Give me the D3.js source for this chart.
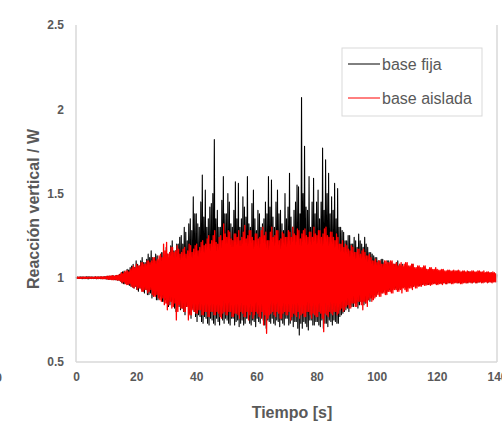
<!DOCTYPE html>
<html><head><meta charset="utf-8">
<script src="https://cdn.jsdelivr.net/npm/d3@7/dist/d3.min.js"></script>
<style>body{margin:0;background:#fff}svg{display:block}</style>
</head><body>
<svg id="c" width="502" height="424"></svg>
<script>
// Per second t = 0..140: two local peaks (Hi, HiB) and two troughs (Lo, LoB)
const seriesNames = ["base fija", "base aislada"];
const xTicks = [0, 20, 40, 60, 80, 100, 120, 140];
const yTicks = [0.5, 1, 1.5, 2, 2.5];

const fijaHi = [1.005,1.004,1.006,1.005,1.007,1.006,1.005,1.004,1.006,1.005,
  1.008,1.01,1.012,1.01,1.015, 1.03,1.04,1.05,1.06,1.08,
  1.1,1.07,1.12,1.09,1.14, 1.16,1.1,1.13,1.12,1.15,
  1.18,1.12,1.22,1.16,1.2, 1.25,1.3,1.22,1.35,1.48,
  1.38,1.3,1.61,1.52,1.35, 1.44,1.82,1.4,1.3,1.6,
  1.38,1.45,1.3,1.57,1.56, 1.35,1.42,1.6,1.3,1.52,
  1.28,1.38,1.32,1.45,1.6, 1.58,1.3,1.52,1.4,1.28,
  1.35,1.62,1.3,1.45,1.54, 2.07,1.78,1.4,1.3,1.59,
  1.45,1.35,1.77,1.7,1.62, 1.48,1.56,1.53,1.3,1.27,
  1.22,1.25,1.2,1.22,1.26, 1.2,1.24,1.18,1.15,1.13,
  1.12,1.1,1.11,1.08,1.1, 1.09,1.08,1.1,1.07,1.06,
  1.07,1.06,1.08,1.05,1.06, 1.05,1.06,1.04,1.05,1.04,
  1.04,1.035,1.04,1.03,1.04,1.035,1.03,1.04,1.03,1.035,
  1.03,1.035,1.03,1.03,1.035,1.03,1.025,1.03,1.03,1.025,1.02];
const fijaLo = [0.995,0.996,0.994,0.995,0.993,0.995,0.996,0.995,0.994,0.995,
  0.992,0.99,0.99,0.988,0.985, 0.97,0.965,0.96,0.95,0.94,
  0.93,0.94,0.92,0.93,0.9, 0.88,0.9,0.87,0.89,0.86,
  0.85,0.84,0.87,0.8,0.83, 0.82,0.78,0.84,0.76,0.8,
  0.74,0.77,0.73,0.76,0.72, 0.75,0.72,0.74,0.77,0.73,
  0.75,0.72,0.76,0.74,0.71, 0.75,0.73,0.76,0.72,0.74,
  0.76,0.73,0.75,0.7,0.74, 0.76,0.72,0.74,0.75,0.72,
  0.76,0.73,0.71,0.74,0.66, 0.7,0.73,0.69,0.75,0.72,
  0.74,0.71,0.7,0.73,0.75, 0.72,0.74,0.73,0.78,0.8,
  0.82,0.84,0.83,0.85,0.84, 0.86,0.85,0.87,0.88,0.9,
  0.91,0.92,0.92,0.91,0.93, 0.93,0.94,0.93,0.94,0.95,
  0.95,0.955,0.95,0.96,0.955,0.96,0.965,0.96,0.965,0.97,
  0.965,0.97,0.97,0.965,0.97,0.97,0.975,0.97,0.97,0.975,
  0.97,0.975,0.975,0.97,0.975,0.975,0.98,0.975,0.975,0.98,0.98];
const fijaHiB = [1.004,1.005,1.004,1.006,1.005,1.004,1.006,1.005,1.005,1.006,
  1.009,1.008,1.011,1.013,1.02, 1.035,1.03,1.045,1.07,1.06,
  1.08,1.1,1.09,1.11,1.12, 1.12,1.14,1.1,1.15,1.13,
  1.14,1.19,1.16,1.2,1.24, 1.2,1.27,1.32,1.28,1.38,
  1.32,1.45,1.36,1.3,1.42, 1.5,1.35,1.3,1.46,1.38,
  1.5,1.32,1.4,1.35,1.3, 1.48,1.36,1.32,1.44,1.35,
  1.4,1.3,1.35,1.38,1.42, 1.36,1.45,1.38,1.32,1.5,
  1.42,1.36,1.4,1.55,1.38, 1.5,1.42,1.6,1.45,1.38,
  1.52,1.45,1.4,1.5,1.38, 1.4,1.35,1.3,1.28,1.22,
  1.25,1.2,1.24,1.18,1.22, 1.18,1.2,1.15,1.14,1.12,
  1.1,1.11,1.09,1.1,1.08, 1.08,1.09,1.07,1.08,1.07,
  1.06,1.07,1.05,1.06,1.05,1.055,1.05,1.05,1.04,1.045,
  1.035,1.04,1.03,1.035,1.03,1.04,1.035,1.03,1.035,1.03,
  1.035,1.03,1.03,1.025,1.03,1.025,1.03,1.025,1.025,1.02,1.02];
const fijaLoB = [0.996,0.995,0.995,0.994,0.996,0.995,0.994,0.996,0.995,0.994,
  0.99,0.991,0.989,0.986,0.98, 0.965,0.97,0.955,0.945,0.95,
  0.92,0.93,0.91,0.9,0.91, 0.89,0.87,0.88,0.86,0.87,
  0.83,0.86,0.82,0.84,0.81, 0.8,0.83,0.79,0.82,0.77,
  0.78,0.74,0.77,0.73,0.76, 0.73,0.76,0.72,0.75,0.76,
  0.73,0.76,0.72,0.75,0.73, 0.72,0.76,0.73,0.75,0.71,
  0.74,0.76,0.72,0.75,0.73, 0.73,0.75,0.71,0.73,0.76,
  0.72,0.75,0.74,0.7,0.73, 0.74,0.71,0.75,0.72,0.74,
  0.72,0.75,0.73,0.71,0.74, 0.75,0.73,0.77,0.79,0.81,
  0.8,0.83,0.85,0.82,0.86, 0.84,0.87,0.86,0.89,0.89,
  0.92,0.91,0.93,0.92,0.92, 0.94,0.93,0.94,0.95,0.94,
  0.955,0.95,0.96,0.955,0.96,0.965,0.96,0.965,0.97,0.965,
  0.97,0.965,0.97,0.975,0.97,0.975,0.97,0.975,0.975,0.97,
  0.975,0.97,0.975,0.975,0.98,0.975,0.975,0.98,0.98,0.975,0.98];

const aisladaHi = [1.003,1.004,1.003,1.004,1.003,1.004,1.004,1.005,1.005,1.006,
  1.008,1.01,1.012,1.013,1.015, 1.03,1.035,1.04,1.05,1.07,
  1.08,1.07,1.09,1.08,1.1, 1.1,1.12,1.11,1.14,1.2,
  1.21,1.15,1.18,1.16,1.17, 1.15,1.18,1.16,1.19,1.17,
  1.2,1.18,1.22,1.2,1.25, 1.22,1.28,1.2,1.25,1.32,
  1.24,1.27,1.22,1.26,1.28, 1.24,1.31,1.25,1.28,1.22,
  1.26,1.24,1.3,1.27,1.22, 1.3,1.25,1.28,1.23,1.26,
  1.24,1.27,1.3,1.25,1.28, 1.26,1.29,1.24,1.27,1.3,
  1.25,1.28,1.26,1.3,1.24, 1.27,1.22,1.24,1.2,1.18,
  1.19,1.16,1.18,1.15,1.17, 1.16,1.15,1.13,1.12,1.1,
  1.09,1.1,1.08,1.1,1.09, 1.1,1.08,1.07,1.09,1.08,
  1.09,1.07,1.08,1.06,1.07,1.06,1.07,1.05,1.06,1.05,
  1.05,1.045,1.05,1.04,1.045,1.04,1.04,1.045,1.035,1.04,
  1.04,1.035,1.04,1.035,1.04,1.035,1.03,1.035,1.03,1.03,1.025];
const aisladaLo = [0.997,0.996,0.997,0.996,0.997,0.996,0.996,0.995,0.995,0.994,
  0.992,0.99,0.988,0.987,0.985, 0.97,0.965,0.96,0.95,0.94,
  0.93,0.94,0.92,0.93,0.92, 0.9,0.89,0.88,0.86,0.84,
  0.81,0.86,0.83,0.75,0.84, 0.82,0.8,0.75,0.78,0.8,
  0.79,0.81,0.78,0.8,0.77, 0.8,0.78,0.79,0.76,0.8,
  0.78,0.8,0.77,0.79,0.76, 0.79,0.77,0.75,0.8,0.78,
  0.79,0.76,0.72,0.67,0.78, 0.8,0.77,0.79,0.76,0.8,
  0.78,0.75,0.79,0.77,0.76, 0.79,0.77,0.8,0.76,0.78,
  0.77,0.79,0.68,0.78,0.8, 0.78,0.8,0.79,0.82,0.81,
  0.84,0.82,0.85,0.83,0.86, 0.81,0.85,0.87,0.86,0.88,
  0.9,0.89,0.91,0.9,0.92, 0.91,0.93,0.92,0.91,0.93,
  0.92,0.94,0.95,0.94,0.95,0.96,0.955,0.96,0.96,0.965,
  0.96,0.965,0.97,0.965,0.97,0.965,0.97,0.97,0.965,0.97,
  0.97,0.97,0.975,0.97,0.975,0.97,0.975,0.975,0.97,0.975,0.98];
const aisladaHiB = [1.004,1.003,1.004,1.003,1.004,1.003,1.005,1.004,1.006,1.005,
  1.009,1.011,1.01,1.014,1.02, 1.025,1.04,1.035,1.06,1.06,
  1.07,1.09,1.08,1.1,1.09, 1.12,1.1,1.13,1.12,1.16,
  1.14,1.18,1.15,1.19,1.14, 1.17,1.14,1.2,1.15,1.19,
  1.16,1.21,1.19,1.23,1.2, 1.25,1.21,1.24,1.22,1.26,
  1.28,1.23,1.26,1.24,1.22, 1.27,1.23,1.28,1.24,1.26,
  1.23,1.28,1.25,1.22,1.27, 1.24,1.28,1.22,1.27,1.24,
  1.28,1.24,1.26,1.29,1.23, 1.28,1.25,1.27,1.24,1.26,
  1.28,1.24,1.29,1.25,1.27, 1.24,1.26,1.2,1.22,1.2,
  1.17,1.19,1.15,1.17,1.14, 1.17,1.13,1.14,1.1,1.11,
  1.1,1.08,1.1,1.09,1.1, 1.08,1.09,1.08,1.07,1.09,
  1.07,1.08,1.06,1.07,1.06,1.07,1.05,1.06,1.05,1.06,
  1.045,1.05,1.04,1.045,1.04,1.045,1.04,1.04,1.04,1.035,
  1.035,1.04,1.035,1.04,1.035,1.04,1.035,1.03,1.035,1.025,1.025];
const aisladaLoB = [0.996,0.997,0.996,0.997,0.996,0.997,0.995,0.996,0.994,0.995,
  0.991,0.989,0.99,0.986,0.98, 0.975,0.96,0.965,0.945,0.95,
  0.94,0.92,0.93,0.91,0.93, 0.89,0.9,0.87,0.88,0.85,
  0.84,0.82,0.85,0.8,0.82, 0.8,0.83,0.78,0.81,0.79,
  0.81,0.78,0.8,0.77,0.8, 0.78,0.8,0.77,0.79,0.78,
  0.8,0.77,0.79,0.78,0.8, 0.77,0.8,0.78,0.76,0.8,
  0.77,0.8,0.78,0.76,0.79, 0.78,0.8,0.76,0.79,0.78,
  0.8,0.77,0.78,0.8,0.78, 0.77,0.8,0.78,0.79,0.77,
  0.8,0.76,0.79,0.77,0.79, 0.8,0.78,0.81,0.8,0.83,
  0.82,0.85,0.83,0.86,0.84, 0.86,0.83,0.88,0.87,0.89,
  0.89,0.91,0.9,0.92,0.91, 0.93,0.92,0.93,0.94,0.92,
  0.94,0.93,0.94,0.95,0.95,0.955,0.96,0.955,0.965,0.96,
  0.965,0.96,0.965,0.97,0.965,0.97,0.97,0.965,0.97,0.97,
  0.975,0.97,0.97,0.975,0.97,0.975,0.97,0.975,0.975,0.975,0.98];

const svg = d3.select("#c");
const L = 76, R = 497, T = 25, B = 362;
const x = d3.scaleLinear().domain([0, 140]).range([L, R]);
const y = d3.scaleLinear().domain([0.5, 2.5]).range([B, T]);

function pts(hi, lo, hiB, loB, off) {
  const p = [];
  hi.forEach((v, t) => {
    const seq = [[t + off, v], [t + off + 0.25, lo[t]], [t + off + 0.5, hiB[t]], [t + off + 0.75, loB[t]]];
    seq.forEach(s => { if (s[0] <= 140 && s[1] !== undefined) p.push(s); });
  });
  return p;
}
const line = d3.line().x(d => x(d[0])).y(d => y(d[1]));

const g = svg.append("g");
g.append("path").datum(pts(fijaHi, fijaLo, fijaHiB, fijaLoB, 0)).attr("d", line)
  .attr("fill", "none").attr("stroke", "#000").attr("stroke-width", 1.1).attr("stroke-linejoin", "round");
g.append("path").datum(pts(aisladaHi, aisladaLo, aisladaHiB, aisladaLoB, 0.125)).attr("d", line)
  .attr("fill", "none").attr("stroke", "#ff0000").attr("stroke-width", 1.3).attr("stroke-linejoin", "round");

// frame (left, bottom, right)
const fr = svg.append("g").attr("stroke", "#d9d9d9").attr("stroke-width", 1.5).attr("fill", "none");
fr.append("line").attr("x1", L).attr("x2", L).attr("y1", T).attr("y2", B);
fr.append("line").attr("x1", L).attr("x2", R).attr("y1", B).attr("y2", B);
fr.append("line").attr("x1", R).attr("x2", R).attr("y1", T).attr("y2", B);

const tickFont = "'Liberation Sans', Arial, sans-serif";
const xAxis = svg.append("g").attr("transform", `translate(0,${B})`)
  .call(d3.axisBottom(x).tickValues(xTicks).tickSize(0).tickPadding(10).tickFormat(d3.format("d")));
const yAxis = svg.append("g").attr("transform", `translate(${L},0)`)
  .call(d3.axisLeft(y).tickValues(yTicks).tickSize(0).tickPadding(12).tickFormat(d => String(d)));
[xAxis, yAxis].forEach(a => {
  a.select(".domain").remove();
  a.selectAll("text").attr("font-family", tickFont).attr("font-size", 12)
    .attr("font-weight", "bold").attr("fill", "#595959");
});

// stray partial label at far left
svg.append("text").attr("x", 2).attr("y", 382).attr("text-anchor", "end")
  .attr("font-family", tickFont).attr("font-size", 12).attr("font-weight", "bold")
  .attr("fill", "#595959").text("0");

svg.append("text").attr("x", 292).attr("y", 418).attr("text-anchor", "middle")
  .attr("font-family", tickFont).attr("font-size", 16).attr("font-weight", "bold")
  .attr("fill", "#595959").text("Tiempo [s]");
svg.append("text").attr("transform", "translate(39,209) rotate(-90)").attr("text-anchor", "middle")
  .attr("font-family", tickFont).attr("font-size", 16).attr("font-weight", "bold")
  .attr("fill", "#595959").text("Reacción vertical / W");

// legend
const lg = svg.append("g");
lg.append("rect").attr("x", 342).attr("y", 48).attr("width", 140).attr("height", 68)
  .attr("fill", "#fff").attr("stroke", "#d9d9d9").attr("stroke-width", 1);
const legColors = ["#000", "#ff0000"];
seriesNames.forEach((n, i) => {
  const yy = 64 + i * 34;
  lg.append("line").attr("x1", 348).attr("x2", 380).attr("y1", yy).attr("y2", yy)
    .attr("stroke", legColors[i]).attr("stroke-width", 1);
  lg.append("text").attr("x", 382).attr("y", yy + 6).attr("font-family", tickFont)
    .attr("font-size", 16).attr("fill", "#595959").text(n);
});
</script>
</body></html>
